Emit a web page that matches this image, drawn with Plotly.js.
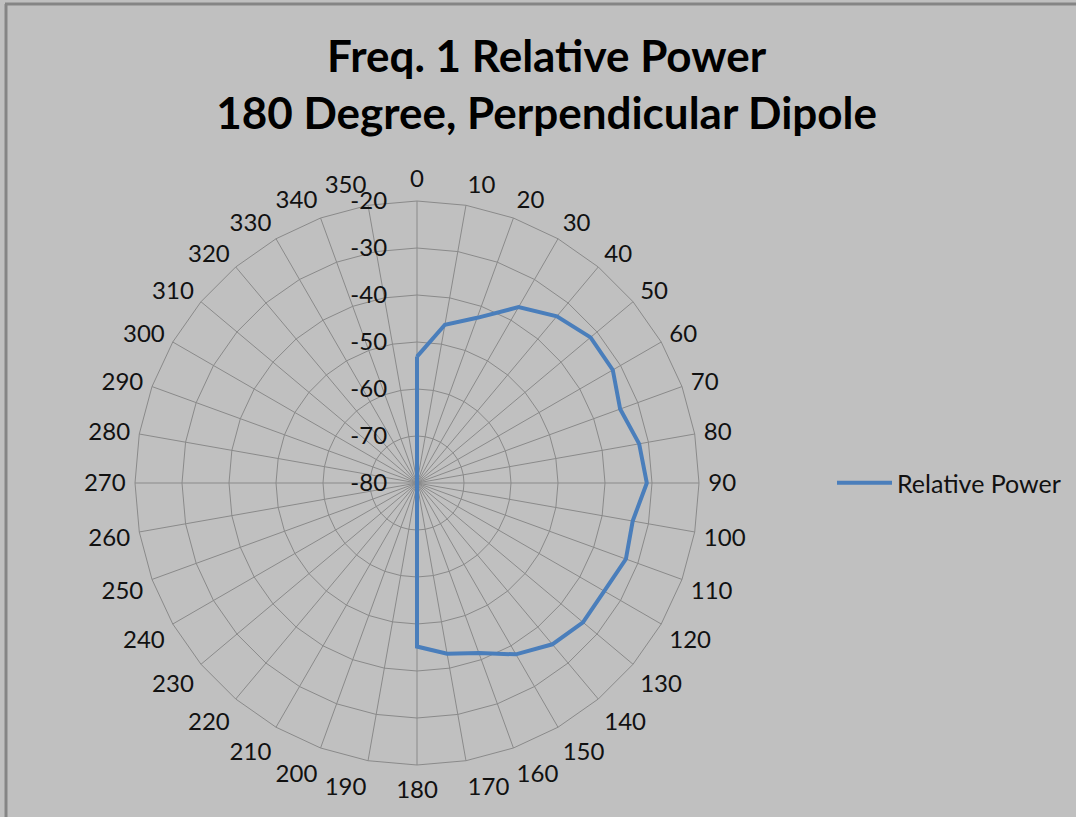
<!DOCTYPE html>
<html>
<head>
<meta charset="utf-8">
<script src="https://cdn.plot.ly/plotly-3.0.1.min.js"></script>
<style>
  html, body { margin: 0; padding: 0; background: #c0c0c0; }
  #chart { width: 1076px; height: 817px; }
</style>
</head>
<body>
<div id="chart"></div>
<script>
// Angle categories (degrees)
const angles = ["0","10","20","30","40","50","60","70","80","90","100","110","120","130","140","150","160","170",
                "180","190","200","210","220","230","240","250","260","270","280","290","300","310","320","330","340","350"];
// Relative power (dB)
const relativePower = [-53.1, -45.8, -42.6, -36.8, -33.7, -31.8, -31.9, -34.0, -32.0, -31.1, -33.4, -32.7,
                       -34.0, -33.9, -35.2, -37.9, -41.5, -43.1, -45.2, -80, -80, -80, -80, -80,
                       -80, -80, -80, -80, -80, -80, -80, -80, -80, -80, -80, -80];
const radialTicks = [-80, -70, -60, -50, -40, -30, -20];
const seriesName = "Relative Power";
const titleText = "Freq. 1 Relative Power<br>180 Degree, Perpendicular Dipole";

const gridCol = "#8a8a8a";

const trace = {
  type: "scatterpolar",
  mode: "lines",
  name: seriesName,
  theta: angles.concat([angles[0]]),
  r: relativePower.concat([relativePower[0]]),
  line: { color: "#4a7ebb", width: 4 },
  showlegend: true,
  hoverinfo: "skip"
};

const layout = {
  width: 1076,
  height: 817,
  paper_bgcolor: "#c0c0c0",
  plot_bgcolor: "#c0c0c0",
  margin: { l: 0, r: 0, t: 0, b: 0 },
  font: { family: "Lato, 'Open Sans', sans-serif", color: "#000000", size: 24 },
  title: {
    text: titleText,
    font: { family: "Lato, sans-serif", size: 44, color: "#000000", weight: "bold" },
    x: 0.508, xanchor: "center",
    y: 1 - 72 / 817, yanchor: "top", yref: "container"
  },
  showlegend: true,
  legend: {
    x: 832 / 1076, xanchor: "left",
    y: 1 - 483 / 817, yanchor: "middle",
    itemwidth: 55,
    bgcolor: "rgba(0,0,0,0)",
    font: { family: "Lato, sans-serif", size: 25, color: "#111111" }
  },
  polar: {
    domain: { x: [135 / 1076, 699 / 1076], y: [1 - 765 / 817, 1 - 201 / 817] },
    bgcolor: "#c0c0c0",
    gridshape: "linear",
    angularaxis: {
      type: "category",
      categoryorder: "array",
      categoryarray: angles,
      direction: "clockwise",
      rotation: 90,
      showline: true,
      linecolor: gridCol,
      linewidth: 1,
      showgrid: true,
      gridcolor: gridCol,
      gridwidth: 1,
      ticks: "outside",
      ticklen: 4,
      tickcolor: "rgba(0,0,0,0)",
      tickfont: { family: "Lato, sans-serif", size: 24, color: "#111111" }
    },
    radialaxis: {
      range: [-80, -20],
      tickvals: radialTicks,
      ticktext: radialTicks.map(String),
      angle: 90,
      side: "counterclockwise",
      tickangle: 90,
      showline: false,
      showgrid: true,
      gridcolor: gridCol,
      gridwidth: 1,
      ticks: "outside",
      ticklen: 21,
      tickcolor: "rgba(0,0,0,0)",
      tickfont: { family: "Lato, sans-serif", size: 24, color: "#111111" }
    }
  },
  shapes: [
    { type: "line", xref: "paper", yref: "paper", x0: 6 / 1076, x1: 6 / 1076, y0: 0, y1: 1 - 4 / 817,
      line: { color: "#858585", width: 3 } },
    { type: "line", xref: "paper", yref: "paper", x0: 5 / 1076, x1: 1, y0: 1 - 4 / 817, y1: 1 - 4 / 817,
      line: { color: "#858585", width: 3 } }
  ]
};

Plotly.newPlot("chart", [trace], layout, { displayModeBar: false, staticPlot: true });
</script>
</body>
</html>
